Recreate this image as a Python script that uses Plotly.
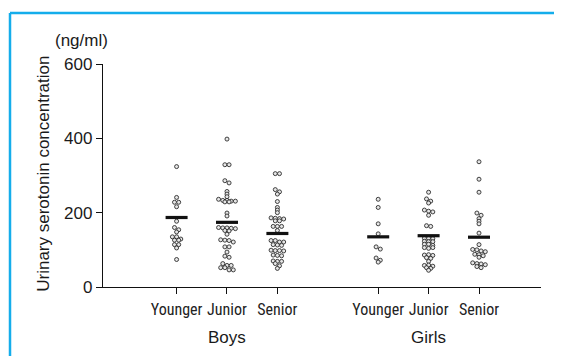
import plotly.graph_objects as go

# ---------------- data ----------------
groups = ["Boys", "Girls"]
levels = ["Younger", "Junior", "Senior"]

boys_younger = [324, 241, 228, 228, 216, 177, 160, 154, 148, 135, 135, 129, 126, 126, 114, 114, 105, 74]
boys_junior = [398, 329, 329, 286, 280, 257, 250, 243, 236, 233, 233, 231, 231, 229, 229, 199, 191,
               160, 159, 159, 158, 157, 152, 151, 142, 127, 126, 125, 121, 108, 108, 94, 83, 80,
               63, 58, 58, 52, 52, 46, 46]
boys_senior = [305, 305, 262, 256, 250, 230, 214, 207, 200, 186, 185, 184, 183, 178, 178, 163, 163, 163,
               152, 125, 125, 121, 121, 114, 113, 112, 99, 98, 98, 97, 86, 85, 84, 70, 69, 69, 63, 57, 50]
girls_younger = [236, 214, 170, 143, 108, 102, 78, 72, 67]
girls_junior = [255, 237, 231, 226, 207, 204, 202, 193, 165, 163, 131, 131, 130, 123, 122, 122,
                115, 115, 112, 106, 104, 106, 86, 87, 85, 79, 77, 69, 58, 59, 56, 52, 50, 45]
girls_senior = [337, 290, 255, 199, 193, 184, 177, 170, 145, 114, 101, 100, 97, 95, 88, 87, 84, 80,
                65, 63, 62, 60, 55, 52]

series = [boys_younger, boys_junior, boys_senior, girls_younger, girls_junior, girls_senior]
means = [187, 174, 144, 135, 138, 134]

y_ticks = [0, 200, 400, 600]

# ---------------- layout constants ----------------
# the page body has an 8px default margin, so the figure is drawn 8px smaller
OFF = 8
W, H = 562 - OFF, 356 - OFF
PLOT_L, PLOT_R, PLOT_T, PLOT_B = 103, 541, 64, 287.5   # target page pixels
ML = PLOT_L - OFF
MT = PLOT_T - OFF
MR = W - (PLOT_R - OFF)
MB = H - (PLOT_B - OFF)
XR = [-0.46, 8.23]
YR = [0, 600]
plot_w = W - ML - MR
plot_h = H - MT - MB
xpx = plot_w / (XR[1] - XR[0])
ypx = plot_h / (YR[1] - YR[0])

positions = []
tick_text = []
for gi, g in enumerate(groups):
    for li, lv in enumerate(levels):
        positions.append(gi * 4 + li + 1)
        tick_text.append(lv)


def swarm_x(center, values, step_px=4.2, bin_px=2.4):
    n = len(values)
    order = sorted(range(n), key=lambda i: -values[i])
    bins = []
    cur = [order[0]]
    for i in order[1:]:
        if (values[cur[0]] - values[i]) * ypx < bin_px:
            cur.append(i)
        else:
            bins.append(cur)
            cur = [i]
    bins.append(cur)
    xs = [0.0] * n
    for b in bins:
        m = len(b)
        b_sorted = sorted(b)
        for k, i in enumerate(b_sorted):
            xs[i] = center + (k - (m - 1) / 2) * step_px / xpx
    return xs


fig = go.Figure()

for pos, vals in zip(positions, series):
    fig.add_trace(go.Scatter(
        x=swarm_x(pos, vals), y=vals, mode="markers",
        marker=dict(size=4.0, color="#e6e6e6", line=dict(color="#222222", width=0.85)),
        showlegend=False, hoverinfo="y"))

half = 11 / xpx
for pos, m in zip(positions, means):
    fig.add_trace(go.Scatter(
        x=[pos - half, pos + half], y=[m, m], mode="lines",
        line=dict(color="#111111", width=3.2), showlegend=False, hoverinfo="y"))

fig.update_layout(
    template="none",
    width=W, height=H,
    margin=dict(l=ML, r=MR, t=MT, b=MB, autoexpand=False),
    paper_bgcolor="white", plot_bgcolor="white",
    font=dict(family="Liberation Sans, Arial, sans-serif", color="#1a1a1a"),
    xaxis=dict(range=XR, tickmode="array", tickvals=positions, ticktext=tick_text,
               automargin=False, tickangle=0, ticklabelstandoff=2,
               showgrid=False, zeroline=False, showline=True, linecolor="#111111", linewidth=1.3,
               ticks="outside", ticklen=6, tickwidth=1.2, tickcolor="#111111",
               tickfont=dict(family="Liberation Sans Narrow, Arial Narrow, Roboto Condensed, sans-serif",
                             size=16, color="#222222")),
    yaxis=dict(range=YR, tickmode="array", tickvals=y_ticks, automargin=False,
               showgrid=False, zeroline=False, showline=True, linecolor="#111111", linewidth=1.3,
               ticks="outside", ticklen=6, tickwidth=1.2, tickcolor="#111111",
               tickfont=dict(size=17, color="#1a1a1a")),
)


def px_to_paper_x(px):
    return (px - PLOT_L) / plot_w


def px_to_paper_y(py):
    return (PLOT_B - py) / plot_h


annotations = [
    dict(text="(ng/ml)", x=px_to_paper_x(81), y=px_to_paper_y(40), xref="paper", yref="paper",
         showarrow=False, font=dict(size=17), xanchor="center", yanchor="middle"),
    dict(text="Urinary serotonin concentration", x=px_to_paper_x(44), y=px_to_paper_y(174),
         xref="paper", yref="paper", showarrow=False, textangle=-90, font=dict(size=17),
         xanchor="center", yanchor="middle"),
]
for gi, g in enumerate(groups):
    annotations.append(dict(text=g, x=gi * 4 + 2, y=px_to_paper_y(338), xref="x", yref="paper",
                            showarrow=False, font=dict(size=17), xanchor="center", yanchor="middle"))
fig.update_layout(annotations=annotations)

border = "#14ADEB"
fig.add_shape(type="line", xref="paper", yref="paper",
              x0=px_to_paper_x(10), x1=px_to_paper_x(10), y0=px_to_paper_y(13), y1=px_to_paper_y(380),
              line=dict(color=border, width=2.5))
fig.add_shape(type="line", xref="paper", yref="paper",
              x0=px_to_paper_x(10), x1=px_to_paper_x(600), y0=px_to_paper_y(13), y1=px_to_paper_y(13),
              line=dict(color=border, width=2.5))

fig.write_html("out.html")
